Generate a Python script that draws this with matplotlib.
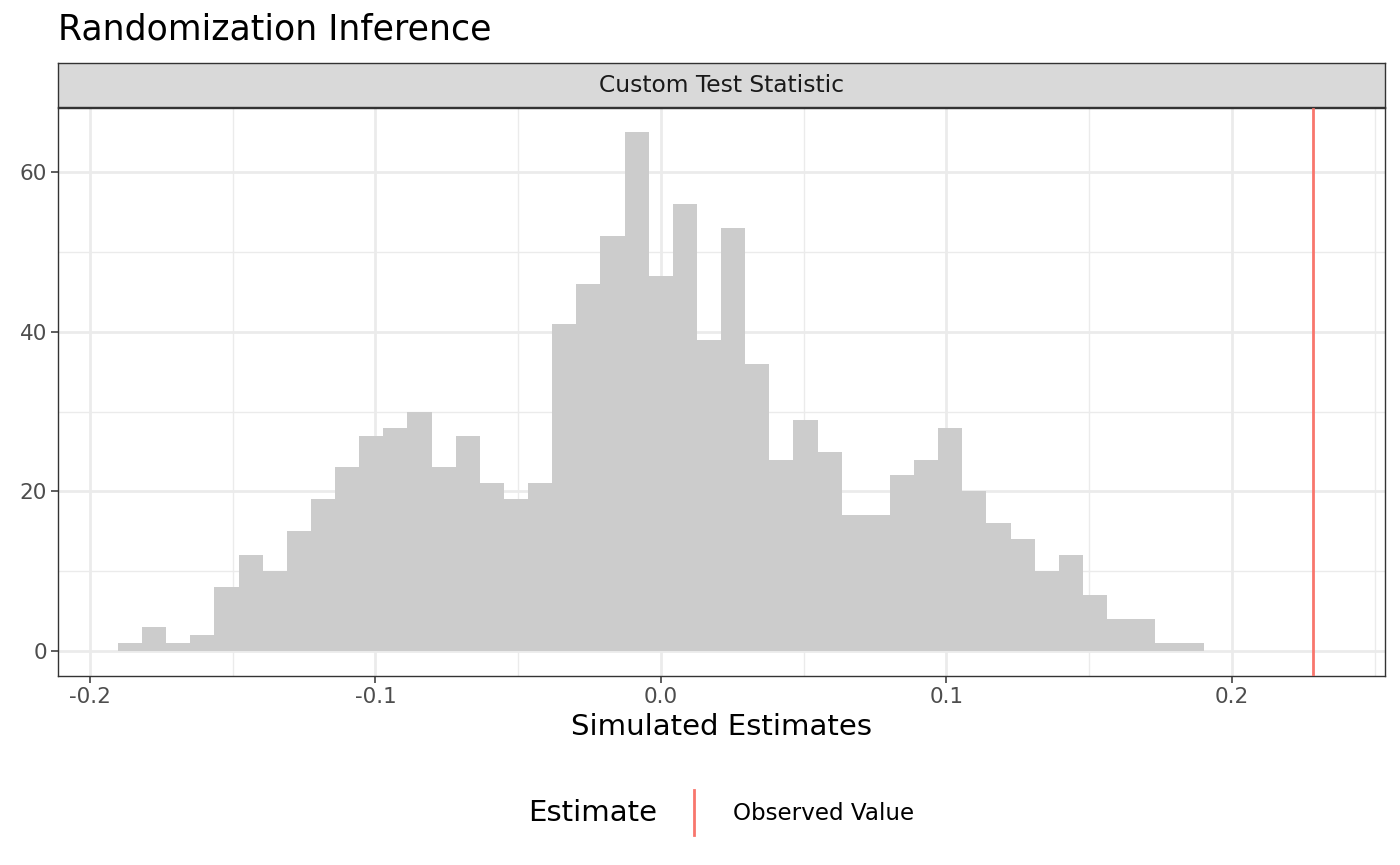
import numpy as np
import matplotlib
matplotlib.use("Agg")
import matplotlib.pyplot as plt
from matplotlib.lines import Line2D
from matplotlib.ticker import MultipleLocator

# histogram of simulated estimates (counts per bin)
counts = [1, 3, 1, 2, 8, 12, 10, 15, 19, 23, 27, 28, 30, 23, 27, 21, 19, 21,
          41, 46, 52, 65, 47, 56, 39, 53, 36, 24, 29, 25, 17, 17, 22, 24, 28,
          20, 16, 14, 10, 12, 7, 4, 4, 1, 1]
bin_start = -0.1902
bin_width = 0.00845
observed = 0.2284

edges = bin_start + bin_width * np.arange(len(counts) + 1)

fig = plt.figure(figsize=(14, 8.65), dpi=100)
ax = fig.add_axes([58 / 1400, 1 - 676 / 865, (1385 - 58) / 1400, (676 - 108) / 865])

ax.stairs(counts, edges, fill=True, color="#CCCCCC", zorder=2)
ax.axvline(observed, color="#F8766D", lw=2, zorder=3)

ax.set_xlim(-0.2112, 0.2536)
ax.set_ylim(-3.1, 68)
ax.xaxis.set_major_locator(MultipleLocator(0.1))
ax.xaxis.set_minor_locator(MultipleLocator(0.05))
ax.yaxis.set_major_locator(MultipleLocator(20))
ax.yaxis.set_minor_locator(MultipleLocator(10))
ax.set_xticks([-0.2, -0.1, 0.0, 0.1, 0.2])
ax.set_xticklabels(["-0.2", "-0.1", "0.0", "0.1", "0.2"])
ax.grid(which="major", color="#EBEBEB", lw=2, zorder=0)
ax.grid(which="minor", color="#EBEBEB", lw=1, zorder=0)
ax.set_axisbelow(True)
ax.tick_params(which="major", length=5, width=1.1, color="#333333",
               labelcolor="#4D4D4D", labelsize=15.5, pad=3)
ax.tick_params(which="minor", length=0)
for s in ax.spines.values():
    s.set_color("#333333")
    s.set_linewidth(1)
ax.set_xlabel("Simulated Estimates", fontsize=21, labelpad=4)

# facet strip
strip = fig.add_axes([58 / 1400, 1 - 107 / 865, (1385 - 58) / 1400, (107 - 63) / 865])
strip.set_facecolor("#D9D9D9")
strip.set_xticks([])
strip.set_yticks([])
for s in strip.spines.values():
    s.set_color("#333333")
    s.set_linewidth(1)
strip.text(0.5, 0.5, "Custom Test Statistic", ha="center", va="center",
           fontsize=16.8, color="#1A1A1A", transform=strip.transAxes)

fig.text(58 / 1400, 1 - 30 / 865, "Randomization Inference", fontsize=25,
         ha="left", va="center")

# legend at bottom
fig.text(528 / 1400, 1 - 813 / 865, "Estimate", fontsize=21, ha="left", va="center")
fig.add_artist(Line2D([694 / 1400, 694 / 1400], [1 - 790 / 865, 1 - 835 / 865],
                      color="#F8766D", lw=2, transform=fig.transFigure))
fig.text(733 / 1400, 1 - 813 / 865, "Observed Value", fontsize=16.6,
         ha="left", va="center")

fig.savefig("out.png", dpi=100)
